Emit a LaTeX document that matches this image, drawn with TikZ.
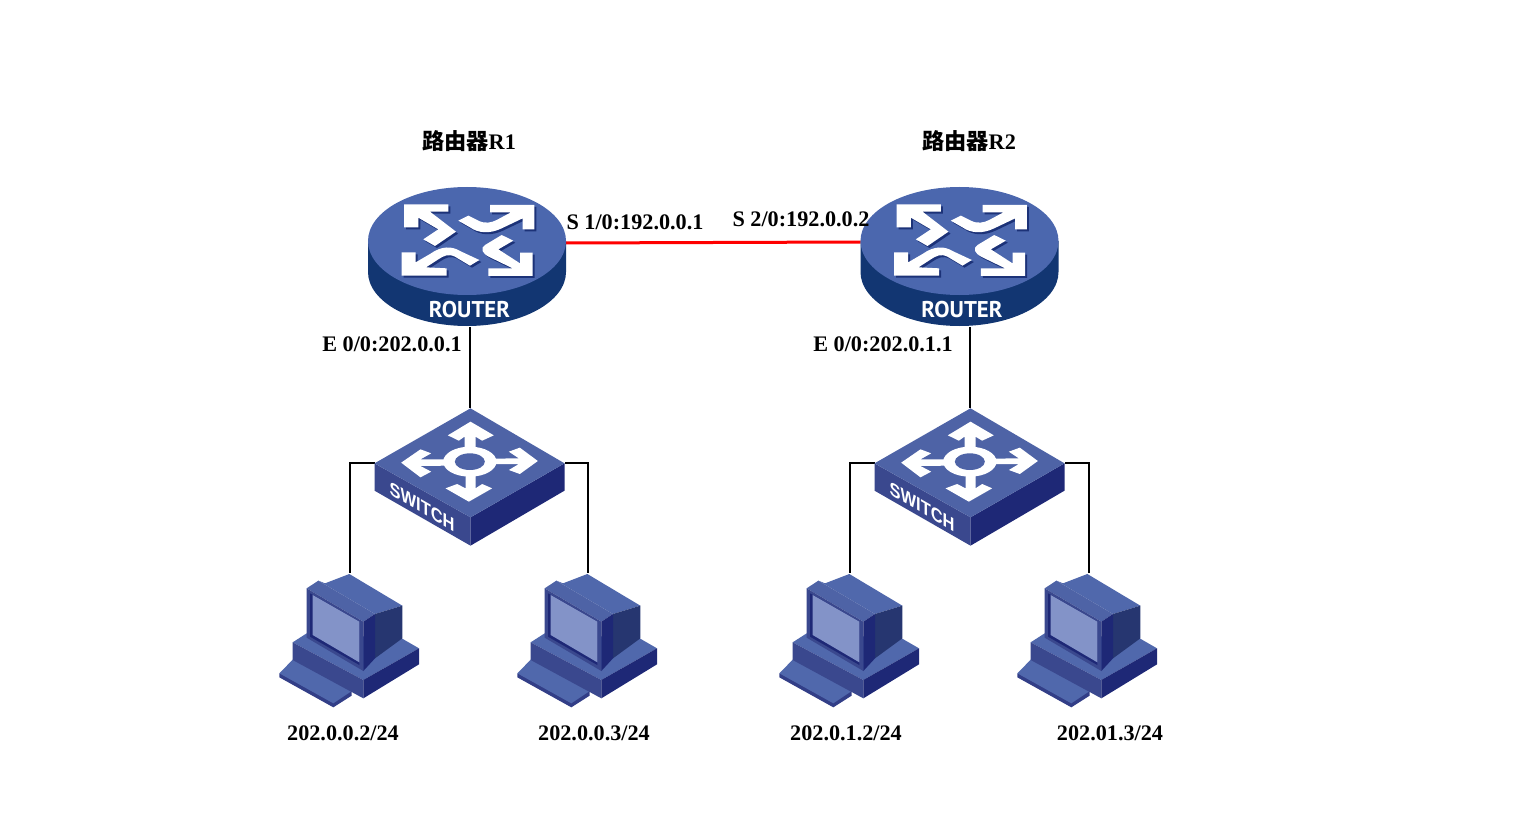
\documentclass[tikz,border=0pt]{standalone}
\usepackage{fontspec}
\setmainfont{Liberation Serif}
\newfontfamily\cjk{Noto Sans CJK SC}
\newfontfamily\narrowfont{PT Sans}
\newfontfamily\swfont{Liberation Sans}
\usepackage{tikz}
\usepackage{xcolor}

\definecolor{rtop}{RGB}{75,103,174}
\definecolor{rside}{RGB}{18,54,114}
\definecolor{rshade}{RGB}{28,50,120}
\definecolor{stop}{RGB}{78,99,166}
\definecolor{sleft}{RGB}{58,72,142}
\definecolor{sright}{RGB}{30,40,118}
\definecolor{pmid}{RGB}{80,104,172}
\definecolor{pback}{RGB}{38,54,112}
\definecolor{pscreen}{RGB}{131,147,200}

\newcommand{\routerarrows}{
  \fill (162,103) -- (295,103) -- (295,125) -- (240,125) -- (318,185) -- (255,228) -- (220,208) -- (265,178) -- (205,143) -- (205,172) -- (162,172) -- cycle;
  \fill (420,105) -- (553,105) -- (553,178) -- (518,178) -- (518,145) -- (455,175) .. controls (420,192) and (385,190) .. (360,172) -- (325,152) -- (355,137) -- (385,152) .. controls (405,162) and (425,158) .. (440,150) -- (483,127) -- (420,127) -- cycle;
  \fill (155,317) -- (155,247) -- (197,247) -- (197,277) -- (240,252) .. controls (275,227) and (305,228) .. (330,243) -- (388,270) -- (360,287) -- (315,260) .. controls (295,250) and (280,258) .. (265,268) -- (228,292) -- (290,295) -- (290,317) -- cycle;
  \fill (548,318) -- (415,318) -- (415,295) -- (488,295) -- (420,262) .. controls (395,250) and (390,235) .. (405,225) -- (455,195) -- (490,212) -- (445,238) -- (510,280) -- (510,248) -- (548,248) -- cycle;
}

\tikzset{
  devbox/.style={inner sep=0pt,outer sep=0pt},
  lbl/.style={font=\fontsize{22.2}{24}\selectfont\bfseries,inner sep=0pt},
  link/.style={line width=2pt},
  routericon/.pic={
    \fill[rside] (-99,0) -- (-99,31) arc[start angle=180,end angle=0,x radius=99,y radius=54] -- (99,0) -- cycle;
    \fill[rtop] (0,0) ellipse [x radius=99,y radius=54];
    \begin{scope}[shift={(-117,-71)},scale=1/3]
      \begin{scope}[shift={(6,6)},fill=rshade]
        \routerarrows
      \end{scope}
      \begin{scope}[fill=white]
        \routerarrows
      \end{scope}
    \end{scope}
    \node[text=white,font=\narrowfont\fontsize{22.8}{24}\selectfont\bfseries,inner sep=0pt] at (2.5,69) {ROUTER};
  },
  switchicon/.pic={
    \begin{scope}[shift={(-109.5,-63)},scale=1/3]
      \fill[sleft] (42,190) -- (330,352) -- (330,437) -- (42,272) -- cycle;
      \fill[sright] (612,190) -- (330,352) -- (330,437) -- (612,272) -- cycle;
      \fill[stop] (330,25) -- (612,190) -- (330,352) -- (42,190) -- cycle;
      \fill[white] (330,65) -- (400,106) -- (365,122) -- (345,110) -- (345,150) -- (312,150) -- (312,110) -- (295,122) -- (262,106) -- cycle;
      \fill[white] (122,188) -- (180,148) -- (212,160) -- (180,178) -- (260,178) -- (260,197) -- (180,198) -- (212,215) -- (180,232) -- cycle;
      \fill[white] (532,183) -- (478,222) -- (445,210) -- (475,192) -- (395,192) -- (395,176) -- (475,175) -- (445,155) -- (478,143) -- cycle;
      \fill[white] (325,305) -- (255,265) -- (290,252) -- (315,265) -- (315,225) -- (345,225) -- (345,265) -- (365,252) -- (395,265) -- cycle;
      \fill[white] (328,185) ellipse [x radius=80,y radius=45];
      \fill[stop] (328,185) ellipse [x radius=45,y radius=25];
      \node[text=white,font=\swfont\fontsize{19}{20}\selectfont\bfseries,inner sep=0pt,cm={0.866,-0.5,0,1,(0,0)}] at (185,320) {SWITCH};
    \end{scope}
  },
  pcicon/.pic={
    \begin{scope}[shift={(-80,-75)},scale=1/3]
      \fill[sleft!70!sright] (28,325) -- (28,337) -- (190,427) -- (245,392) -- (245,380) -- cycle;
      \fill[pmid] (28,325) -- (72,280) -- (250,375) -- (190,415) -- cycle;
      \fill[pmid] (68,232) -- (110,205) -- (395,220) -- (447,250) -- (280,345) -- cycle;
      \fill[sleft] (68,232) -- (280,345) -- (280,400) -- (68,285) -- cycle;
      \fill[sright] (280,345) -- (447,250) -- (447,298) -- (280,400) -- cycle;
      \fill[pmid] (145,47) -- (165,55) -- (238,27) -- (397,122) -- (315,147) -- cycle;
      \fill[pback] (315,147) -- (397,122) -- (397,220) -- (315,280) -- cycle;
      \fill[stop] (110,70) -- (145,47) -- (315,147) -- (280,170) -- cycle;
      \fill[sleft] (110,70) -- (280,170) -- (280,318) -- (110,218) -- cycle;
      \fill[sright] (120,85) -- (268,170) -- (268,300) -- (120,215) -- cycle;
      \fill[pscreen] (128,90) -- (268,170) -- (268,292) -- (128,210) -- cycle;
      \fill[sright] (280,170) -- (315,147) -- (315,280) -- (280,318) -- cycle;
    \end{scope}
  }
}

\begin{document}
\begin{tikzpicture}[x=1pt,y=-1pt]
  \useasboundingbox (0,0) rectangle (1514,834);
  \node[devbox,minimum width=198pt,minimum height=168pt] (R1) at (467,243) {};
  \node[devbox,minimum width=198pt,minimum height=170pt] (R2) at (959.5,242) {};
  \node[devbox,minimum width=190pt,minimum height=110pt] (SW1) at (470,463) {};
  \node[devbox,minimum width=190pt,minimum height=110pt] (SW2) at (970,463) {};
  \node[devbox,minimum width=140pt,minimum height=134pt] (PC1) at (350,640) {};
  \node[devbox,minimum width=140pt,minimum height=134pt] (PC2) at (588,640) {};
  \node[devbox,minimum width=140pt,minimum height=134pt] (PC3) at (850,640) {};
  \node[devbox,minimum width=140pt,minimum height=134pt] (PC4) at (1089,640) {};

  \draw[red,line width=3pt] (R1.east) -- (R2.west);
  \draw[link] (SW1.north) -- (SW1.north |- R1.south);
  \draw[link] (SW2.north) -- (SW2.north |- R2.south);
  \draw[link] (SW1.west) -| (PC1.north);
  \draw[link] (SW1.east) -| (PC2.north);
  \draw[link] (SW2.west) -| (PC3.north);
  \draw[link] (SW2.east) -| (PC4.north);

  \pic at (467,241) {routericon};
  \pic at (959.5,241) {routericon};
  \pic at (SW1) {switchicon};
  \pic at (SW2) {switchicon};
  \pic at (PC1) {pcicon};
  \pic at (PC2) {pcicon};
  \pic at (PC3) {pcicon};
  \pic at ([xshift=-1pt]PC4) {pcicon};

  \node[lbl] (nameR1) at (469,141) {{\cjk 路由器}R1};
  \node[lbl] (nameR2) at (969,141) {{\cjk 路由器}R2};
  \node[lbl] (s1) at (635,222) {S 1/0:192.0.0.1};
  \node[lbl] (s2) at (801,219) {S 2/0:192.0.0.2};
  \node[lbl] (e1) at (392,344) {E 0/0:202.0.0.1};
  \node[lbl] (e2) at (883,344) {E 0/0:202.0.1.1};
  \node[lbl] (ip1) at (343,733) {202.0.0.2/24};
  \node[lbl] (ip2) at (594,733) {202.0.0.3/24};
  \node[lbl] (ip3) at (846,733) {202.0.1.2/24};
  \node[lbl] (ip4) at (1110,733) {202.01.3/24};
\end{tikzpicture}
\end{document}
